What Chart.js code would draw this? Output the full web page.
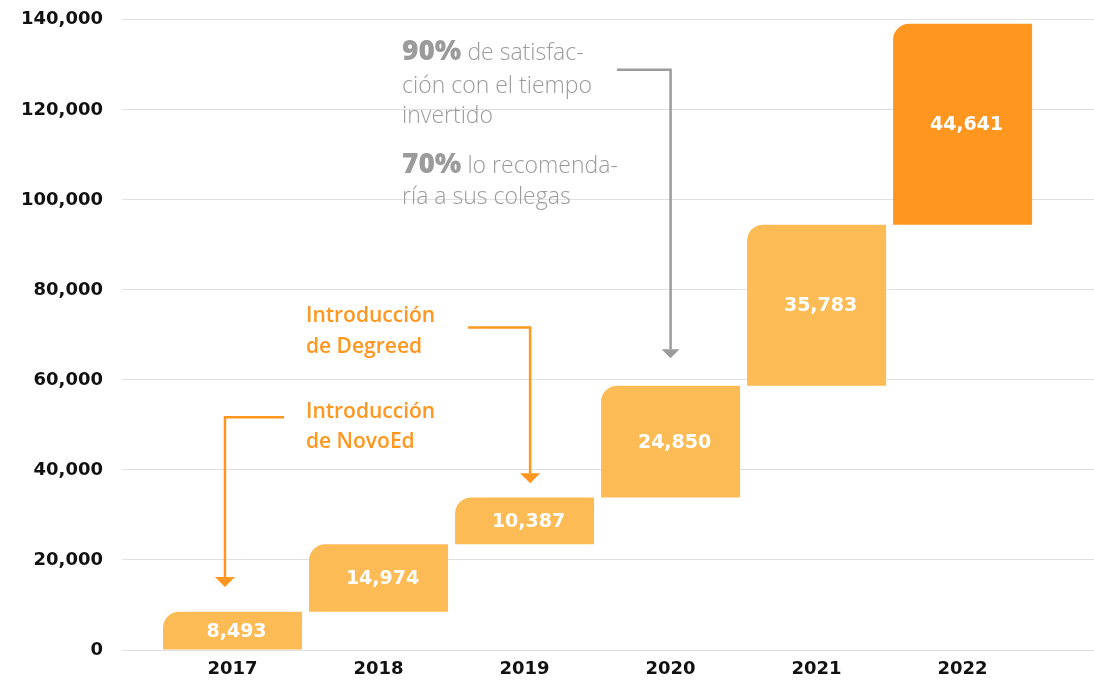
<!DOCTYPE html>
<html>
<head>
<meta charset="utf-8">
<script src="https://cdn.jsdelivr.net/npm/chart.js@4"></script>
<style>
  html, body { margin: 0; padding: 0; background: #fff; overflow: hidden; }
  #wrap { width: 1094px; height: 691px; margin-top: -10px; position: relative; }
</style>
</head>
<body>
<div id="wrap"><canvas id="chart"></canvas></div>
<script>
// Data
var years = [2017, 2018, 2019, 2020, 2021, 2022];
var increments = [8493, 14974, 10387, 24850, 35783, 44641];
var yTicks = [0, 20000, 40000, 60000, 80000, 100000, 120000, 140000];

var LIGHT = "#FDBB55";
var DARK = "#FF961F";
var GRAY = "#9b9b9b";

// waterfall: each bar starts where the previous one ended
var ranges = [];
var running = 0;
for (var i = 0; i < years.length; i++) {
  ranges.push({ x: years[i], y: [running, running + increments[i]] });
  running += increments[i];
}

// Annotations, placed in data coordinates (x = year, y = value)
var arrows = [
  { color: GRAY, width: 2.5, head: [18, 9], path: [[2019.633, 128900], [2020.0, 128900], [2020.0, 64800]] },
  { color: DARK, width: 2.5, head: [20, 10], path: [[2018.613, 71650], [2019.038, 71650], [2019.038, 37050]] },
  { color: DARK, width: 2.5, head: [20, 10], path: [[2017.353, 51700], [2016.948, 51700], [2016.948, 13980]] },
];
var notes = [
  {
    x: 2018.161, y: 131100, color: GRAY, lineGap: [0, 33, 63, 113, 144],
    lines: [
      [["90%", "800 28px 'Open Sans'"], [" de satisfac-", "300 23px 'Open Sans'"]],
      [["ción con el tiempo", "300 23px 'Open Sans'"]],
      [["invertido", "300 23px 'Open Sans'"]],
      [["70%", "800 28px 'Open Sans'"], [" lo recomenda-", "300 23px 'Open Sans'"]],
      [["ría a sus colegas", "300 23px 'Open Sans'"]],
    ],
  },
  {
    x: 2017.503, y: 72770, color: DARK, lineGap: [0, 31],
    lines: [
      [["Introducción", "600 21px 'Open Sans'"]],
      [["de Degreed", "600 21px 'Open Sans'"]],
    ],
  },
  {
    x: 2017.503, y: 51470, color: DARK, lineGap: [0, 30],
    lines: [
      [["Introducción", "600 21px 'Open Sans'"]],
      [["de NovoEd", "600 21px 'Open Sans'"]],
    ],
  },
];

var annotationPlugin = {
  id: "notes",
  afterDatasetsDraw: function (chart) {
    var ctx = chart.ctx;
    var xs = chart.scales.x;
    var ys = chart.scales.y;
    ctx.save();
    arrows.forEach(function (a) {
      var pts = a.path.map(function (p) { return [xs.getPixelForValue(p[0]), ys.getPixelForValue(p[1])]; });
      var tip = pts[pts.length - 1];
      ctx.strokeStyle = a.color;
      ctx.lineWidth = a.width;
      ctx.beginPath();
      ctx.moveTo(pts[0][0], pts[0][1]);
      for (var k = 1; k < pts.length - 1; k++) ctx.lineTo(pts[k][0], pts[k][1]);
      ctx.lineTo(tip[0], tip[1] - a.head[1]);
      ctx.stroke();
      ctx.fillStyle = a.color;
      ctx.beginPath();
      ctx.moveTo(tip[0] - a.head[0] / 2, tip[1] - a.head[1]);
      ctx.lineTo(tip[0] + a.head[0] / 2, tip[1] - a.head[1]);
      ctx.lineTo(tip[0], tip[1]);
      ctx.closePath();
      ctx.fill();
    });
    ctx.textBaseline = "alphabetic";
    ctx.textAlign = "left";
    notes.forEach(function (n) {
      var x0 = xs.getPixelForValue(n.x);
      var y0 = ys.getPixelForValue(n.y);
      ctx.fillStyle = n.color;
      n.lines.forEach(function (line, li) {
        var x = x0;
        line.forEach(function (seg) {
          ctx.font = seg[1];
          ctx.fillText(seg[0], x, y0 + n.lineGap[li]);
          x += ctx.measureText(seg[0]).width;
        });
      });
    });
    ctx.restore();
  },
};

var valueLabels = {
  id: "valueLabels",
  afterDatasetsDraw: function (chart) {
    var ctx = chart.ctx;
    var meta = chart.getDatasetMeta(0);
    ctx.save();
    ctx.fillStyle = "#fff";
    ctx.font = "bold 19px 'DejaVu Sans'";
    ctx.textAlign = "center";
    ctx.textBaseline = "middle";
    meta.data.forEach(function (bar, i) {
      var p = bar.getProps(["x", "y", "base"], true);
      ctx.fillText(increments[i].toLocaleString("en-US"), p.x + 4, (p.y + p.base) / 2 + 1);
    });
    ctx.restore();
  },
};

var ctx = document.getElementById("chart").getContext("2d");
var chart = new Chart(ctx, {
  type: "bar",
  data: {
    datasets: [{
      data: ranges,
      backgroundColor: years.map(function (y, i) { return i === years.length - 1 ? DARK : LIGHT; }),
      borderWidth: 0,
      borderSkipped: false,
      borderRadius: { topLeft: 16, topRight: 0, bottomLeft: 0, bottomRight: 0 },
      barPercentage: 0.952,
      categoryPercentage: 1,
    }],
  },
  options: {
    responsive: true,
    maintainAspectRatio: false,
    animation: false,
    layout: { padding: { top: 9, right: 0, bottom: 0, left: 0 } },
    plugins: { legend: { display: false }, tooltip: { enabled: false } },
    scales: {
      x: {
        type: "linear",
        min: 2016.243,
        max: 2022.9,
        offset: false,
        grid: { display: false },
        border: { display: false },
        afterBuildTicks: function (scale) {
          scale.ticks = years.map(function (v) { return { value: v }; });
        },
        afterFit: function (scale) { scale.height = 31; },
        ticks: {
          padding: 1,
          color: "#111",
          font: { family: "DejaVu Sans", weight: "bold", size: 18 },
          callback: function (v) { return String(v); },
        },
      },
      y: {
        min: 0,
        max: 140000,
        afterBuildTicks: function (scale) {
          scale.ticks = yTicks.map(function (v) { return { value: v }; });
        },
        afterFit: function (scale) { scale.width = 122; },
        grid: { color: "#e0e0e0", lineWidth: 1, drawTicks: false },
        border: { display: false },
        ticks: {
          padding: 19,
          color: "#111",
          font: { family: "DejaVu Sans", weight: "bold", size: 18 },
          callback: function (v) { return v.toLocaleString("en-US"); },
        },
      },
    },
  },
  plugins: [annotationPlugin, valueLabels],
});
</script>
</body>
</html>
